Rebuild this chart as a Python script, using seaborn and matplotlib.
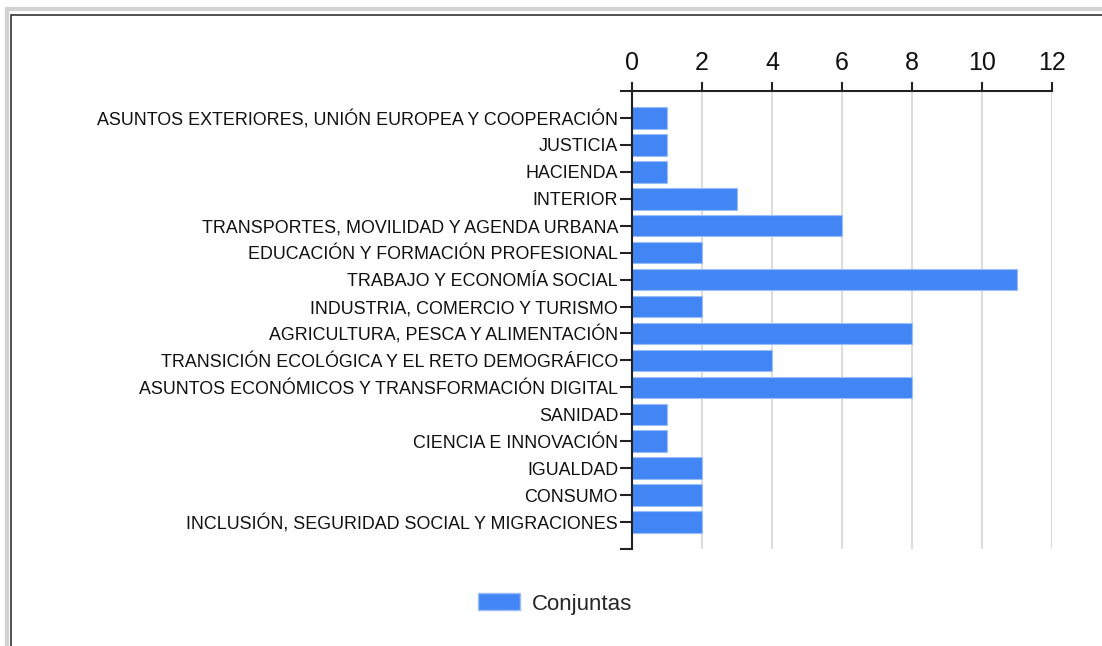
import matplotlib
matplotlib.use("Agg")
import matplotlib.pyplot as plt
from matplotlib.patches import Rectangle, Patch
import seaborn as sns
import pandas as pd

ministerios = [
    "ASUNTOS EXTERIORES, UNIÓN EUROPEA Y COOPERACIÓN",
    "JUSTICIA",
    "HACIENDA",
    "INTERIOR",
    "TRANSPORTES, MOVILIDAD Y AGENDA URBANA",
    "EDUCACIÓN Y FORMACIÓN PROFESIONAL",
    "TRABAJO Y ECONOMÍA SOCIAL",
    "INDUSTRIA, COMERCIO Y TURISMO",
    "AGRICULTURA, PESCA Y ALIMENTACIÓN",
    "TRANSICIÓN ECOLÓGICA Y EL RETO DEMOGRÁFICO",
    "ASUNTOS ECONÓMICOS Y TRANSFORMACIÓN DIGITAL",
    "SANIDAD",
    "CIENCIA E INNOVACIÓN",
    "IGUALDAD",
    "CONSUMO",
    "INCLUSIÓN, SEGURIDAD SOCIAL Y MIGRACIONES",
]
conjuntas = [1, 1, 1, 3, 6, 2, 11, 2, 8, 4, 8, 1, 1, 2, 2, 2]
x_ticks = [0, 2, 4, 6, 8, 10, 12]

df = pd.DataFrame({"ministerio": ministerios, "Conjuntas": conjuntas})

sns.set_style("white")
plt.rcParams["font.family"] = ["Liberation Sans", "DejaVu Sans"]

fig = plt.figure(figsize=(11.02, 6.46), dpi=100)
ax = fig.add_axes([632 / 1102, 1 - 549 / 646, 420 / 1102, 458 / 646])

blue = "#4285f4"
sns.barplot(data=df, x="Conjuntas", y="ministerio", orient="h", color=blue,
            width=0.8, edgecolor="#9bbdf8", linewidth=0.8, saturation=1,
            ax=ax, zorder=3)

n = len(ministerios)
ax.set_xlim(0, 12)
ax.set_ylim(n, -1)
ax.set_xticks(x_ticks)
ax.set_xticklabels([str(t) for t in x_ticks], fontsize=18, color="#111111")
ax.xaxis.tick_top()
ax.set_yticks(list(range(-1, n + 1)))
ax.set_yticklabels([""] + ministerios + [""], fontsize=12.9, color="#111111")
ax.tick_params(axis="x", which="major", top=True, bottom=False, direction="out",
               length=6.5, width=1.5, color="#222222", pad=5)
ax.tick_params(axis="y", which="major", left=True, direction="out",
               length=8.5, width=1.5, color="#222222", pad=1.5)
ax.grid(axis="x", color="#dddddd", linewidth=1.5, zorder=0)
ax.set_xlabel("")
ax.set_ylabel("")

for side in ["right", "bottom"]:
    ax.spines[side].set_visible(False)
for side in ["top", "left"]:
    ax.spines[side].set_color("#222222")
    ax.spines[side].set_linewidth(1.5)
    ax.spines[side].set_zorder(4)

handles = [Patch(facecolor=blue, edgecolor="#9bbdf8", label="Conjuntas")]
fig.legend(handles=handles, loc="center", bbox_to_anchor=(555 / 1102, 1 - 604 / 646),
           frameon=False, fontsize=16, handlelength=1.9, handleheight=0.8,
           handletextpad=0.5)

# marco exterior
fig.patches.append(Rectangle((6.5 / 1102, -0.1), 1.2, 1 - 9.5 / 646 + 0.1,
                             transform=fig.transFigure, fill=False,
                             edgecolor="#d2d2d2", linewidth=3))
fig.patches.append(Rectangle((10.5 / 1102, -0.1), 1.2, 1 - 14.5 / 646 + 0.1,
                             transform=fig.transFigure, fill=False,
                             edgecolor="#333333", linewidth=1.2))

fig.savefig("out.png", dpi=100)
